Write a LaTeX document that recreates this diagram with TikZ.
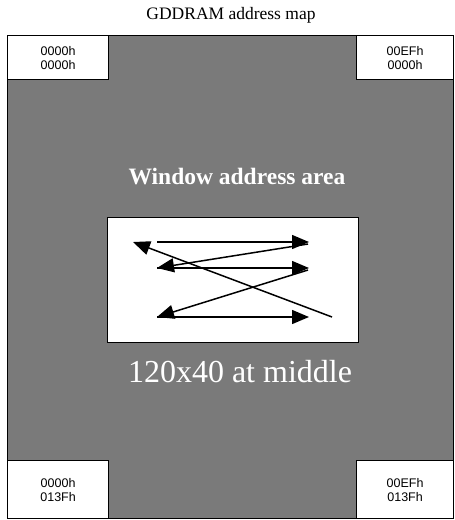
\documentclass[tikz,border=0pt]{standalone}
\usepackage{fontspec}
\setmainfont{Liberation Serif}
\setsansfont{Liberation Sans}
\usetikzlibrary{arrows.meta}

\begin{document}
\begin{tikzpicture}[x=1pt,y=-1pt]

\tikzstyle{corner} = [draw, line width=1.2pt, fill=white, shape=rectangle, inner sep=0pt,
  align=center, font=\sffamily\fontsize{12.5}{14}\selectfont, anchor=north west]
\tikzstyle{win} = [draw, line width=1.2pt, fill=white, shape=rectangle, inner sep=0pt, anchor=north west]
\tikzstyle{scan} = [line width=1.5pt, -{Triangle[length=17pt,width=14pt]}]

\useasboundingbox (0,0) rectangle (455,520);

\node (title) at (231,15) {\fontsize{17.5}{19}\selectfont GDDRAM address map};

% whole GDDRAM
\node[draw, line width=1.2pt, fill=black!52, inner sep=0pt, anchor=north west,
  minimum width=446pt, minimum height=483pt] (ram) at (7,35) {};

\node[corner, minimum width=101pt, minimum height=44pt] (tl) at (7,35) {0000h\\0000h};
\node[corner, minimum width=97pt, minimum height=44pt] (tr) at (356,35) {00EFh\\0000h};
\node[corner, minimum width=101pt, minimum height=58pt] (bl) at (7,460) {0000h\\013Fh};
\node[corner, minimum width=97pt, minimum height=58pt] (br) at (356,460) {00EFh\\013Fh};

\node[text=white, font=\bfseries\fontsize{23.5}{25}\selectfont] (wlabel) at (237,177) {Window address area};
\node[win, minimum width=251pt, minimum height=125pt] (win) at (107,217) {};
\node[text=white, font=\fontsize{32}{34}\selectfont] (wsize) at (240,372) {120x40 at middle};

\coordinate (l1) at (157,242);
\coordinate (r1) at (309,242);
\coordinate (r1b) at (308,244);
\coordinate (l2) at (157,268);
\coordinate (r2) at (309,268);
\coordinate (r2b) at (308,270);
\coordinate (l3) at (157,317);
\coordinate (r3) at (309,317);
\coordinate (e) at (332,317);
\coordinate (s) at (133,242);

\draw[scan] (l1) -- (r1);
\draw[scan] (r1b) -- (l2);
\draw[scan] (l2) -- (r2);
\draw[scan] (r2b) -- (l3);
\draw[scan] (l3) -- (r3);
\draw[scan] (e) -- (s);

\end{tikzpicture}
\end{document}
